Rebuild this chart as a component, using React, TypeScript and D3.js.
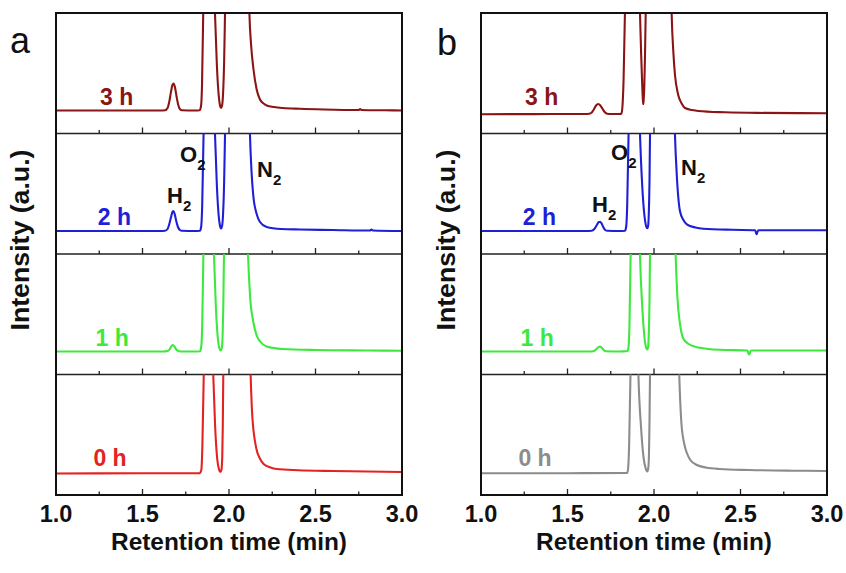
import React from "react";
import * as d3 from "d3";

// ---------- data (retention time [min], intensity [a.u.]) ----------
const xTicksMajor = [1.0, 1.5, 2.0, 2.5, 3.0];
const xTicksMinor = [1.25, 1.75, 2.25, 2.75];
const timeLabels = ["3 h", "2 h", "1 h", "0 h"];
const gasNames = ["H", "O", "N"];

const a3h: [number, number][] = [[1.00,0],[1.30,0],[1.60,0],[1.630,0.02],[1.645,0.25],[1.655,0.9],[1.665,1.9],[1.674,2.6],[1.680,2.7],[1.688,2.3],[1.697,1.4],[1.706,0.6],[1.716,0.15],[1.728,0.02],[1.80,0],[1.830,0.02],[1.838,0.4],[1.844,2.5],[1.851,9.7],[1.860,15],[1.885,17],[1.910,15],[1.919,9.7],[1.930,4.5],[1.940,1.6],[1.948,0.5],[1.954,0.25],[1.960,0.5],[1.966,1.8],[1.972,5],[1.977,9.7],[1.990,16],[2.050,20],[2.110,16],[2.118,9.7],[2.128,6.5],[2.141,4.2],[2.160,2.1],[2.179,1.1],[2.20,0.7],[2.218,0.5],[2.26,0.35],[2.312,0.25],[2.41,0.17],[2.55,0.1],[2.750,0.05],[2.758,0.15],[2.766,0.05],[2.90,0.02],[3.00,0]];
const a2h: [number, number][] = [[1.00,0],[1.60,0],[1.630,0.02],[1.645,0.2],[1.655,0.7],[1.665,1.4],[1.673,1.9],[1.678,2.0],[1.686,1.7],[1.695,1.0],[1.705,0.4],[1.716,0.1],[1.728,0.02],[1.80,0],[1.832,0.02],[1.839,0.4],[1.845,2.5],[1.853,9.7],[1.862,15],[1.885,17],[1.910,15],[1.919,9.7],[1.930,4.5],[1.940,1.6],[1.948,0.5],[1.954,0.25],[1.960,0.5],[1.966,1.8],[1.972,5],[1.977,9.7],[1.990,16],[2.05,20],[2.112,16],[2.121,9.7],[2.130,6],[2.140,3.6],[2.160,1.7],[2.179,0.9],[2.218,0.4],[2.30,0.2],[2.41,0.15],[2.60,0.1],[2.815,0.05],[2.823,0.15],[2.831,0.05],[3.00,0]];
const a1h: [number, number][] = [[1.00,0],[1.62,0],[1.645,0.05],[1.658,0.25],[1.668,0.55],[1.676,0.65],[1.685,0.5],[1.695,0.2],[1.708,0.04],[1.72,0],[1.80,0],[1.832,0.02],[1.839,0.4],[1.845,2.5],[1.852,9.7],[1.862,15],[1.885,17],[1.905,15],[1.913,9.7],[1.924,4.5],[1.935,1.4],[1.945,0.3],[1.952,0.1],[1.958,0.3],[1.963,1.5],[1.967,4.5],[1.971,9.7],[1.985,16],[2.04,20],[2.10,16],[2.110,9.7],[2.122,5.5],[2.140,3.0],[2.160,1.6],[2.180,1.0],[2.218,0.5],[2.31,0.25],[2.5,0.15],[2.8,0.1],[3.0,0.07]];
const a0h: [number, number][] = [[1.00,-0.15],[1.5,-0.13],[1.83,-0.12],[1.840,0.2],[1.846,2.5],[1.854,9.7],[1.864,15],[1.885,17],[1.901,15],[1.909,9.7],[1.920,4.5],[1.932,1.3],[1.943,0.2],[1.950,0],[1.956,0.2],[1.961,1.5],[1.964,4.5],[1.967,9.7],[1.980,16],[2.04,20],[2.115,16],[2.125,9.7],[2.135,5.5],[2.160,2.2],[2.180,1.3],[2.20,0.8],[2.24,0.45],[2.276,0.3],[2.4,0.18],[2.6,0.1],[2.8,0.05],[3.0,0]];

const b3h: [number, number][] = [[1.00,-0.37],[1.3,-0.36],[1.60,-0.35],[1.625,-0.33],[1.640,-0.2],[1.652,0.1],[1.665,0.5],[1.678,0.65],[1.690,0.5],[1.703,0.15],[1.715,-0.15],[1.730,-0.32],[1.75,-0.35],[1.80,-0.35],[1.812,-0.3],[1.818,0.5],[1.824,3],[1.832,9.7],[1.845,15],[1.875,17],[1.905,15],[1.919,9.7],[1.926,5.5],[1.932,2.5],[1.936,1.0],[1.938,0.65],[1.940,1.0],[1.944,2.5],[1.948,5.5],[1.952,9.7],[1.965,16],[2.03,20],[2.095,16],[2.102,9.7],[2.112,5.8],[2.121,3.6],[2.140,1.55],[2.16,0.7],[2.179,0.25],[2.22,0.05],[2.256,-0.05],[2.41,-0.18],[2.6,-0.24],[3.0,-0.27]];
const b2h: [number, number][] = [[1.00,0],[1.60,0],[1.640,0.02],[1.655,0.2],[1.668,0.55],[1.680,0.88],[1.688,0.93],[1.697,0.75],[1.708,0.35],[1.718,0.1],[1.730,0.02],[1.80,0],[1.832,0.02],[1.839,0.4],[1.845,2.5],[1.853,9.7],[1.864,15],[1.888,17],[1.910,15],[1.919,9.7],[1.932,4.5],[1.945,1.5],[1.955,0.45],[1.961,0.27],[1.966,0.5],[1.970,1.8],[1.974,5],[1.977,9.7],[1.990,16],[2.05,20],[2.112,16],[2.121,9.7],[2.132,5.5],[2.150,2.0],[2.17,1.1],[2.19,0.67],[2.24,0.35],[2.285,0.23],[2.45,0.12],[2.585,0.08],[2.591,-0.25],[2.594,-0.33],[2.598,-0.1],[2.605,0.08],[2.8,0.07],[3.0,0.07]];
const b1h: [number, number][] = [[1.00,0],[1.62,0],[1.650,0.03],[1.665,0.2],[1.678,0.42],[1.688,0.5],[1.698,0.38],[1.710,0.12],[1.722,0.02],[1.80,0],[1.848,0.05],[1.853,0.5],[1.858,2.5],[1.865,9.7],[1.875,15],[1.895,17],[1.912,15],[1.919,9.7],[1.932,4.5],[1.945,1.4],[1.955,0.35],[1.961,0.2],[1.966,0.45],[1.970,1.8],[1.974,5],[1.977,9.7],[1.990,16],[2.05,20],[2.116,16],[2.125,9.7],[2.135,5.5],[2.150,2.8],[2.170,1.27],[2.20,0.75],[2.248,0.43],[2.38,0.17],[2.54,0.1],[2.546,-0.2],[2.551,-0.3],[2.556,-0.05],[2.563,0.1],[2.8,0.1],[3.0,0.1]];
const b0h: [number, number][] = [[1.00,-0.13],[1.5,-0.12],[1.845,-0.1],[1.850,0.3],[1.856,2.5],[1.864,9.7],[1.875,15],[1.892,17],[1.903,15],[1.910,9.7],[1.925,4.5],[1.940,1.4],[1.952,0.35],[1.961,0.05],[1.967,0.4],[1.971,1.8],[1.974,5],[1.977,9.7],[1.990,16],[2.06,20],[2.137,16],[2.146,9.7],[2.158,5],[2.175,2.8],[2.19,1.9],[2.21,1.2],[2.248,0.7],[2.30,0.45],[2.38,0.3],[2.55,0.2],[2.8,0.13],[3.0,0.1]];

const seriesA = [a3h, a2h, a1h, a0h];
const seriesB = [b3h, b2h, b1h, b0h];
const colorsA = ["#8b1515", "#1f1fd6", "#3ee83e", "#e32222"];
const colorsB = ["#8b1515", "#1f1fd6", "#3ee83e", "#8c8c8c"];

// ---------- layout ----------
const W = 846, H = 573;
const TOP = 13, PW = 346, ROW_H = 120.5;
const FONT = "'Liberation Sans', Arial, Helvetica, sans-serif";

type PanelCfg = {
  id: string; left: number; letter: string; letterX: number; letterY: number;
  series: [number, number][][]; colors: string[];
  gas: { dx: number; y: number }[]; ylabX: number;
};

const panels: PanelCfg[] = [
  { id: "a", left: 56, letter: "a", letterX: 10, letterY: 53, series: seriesA, colors: colorsA,
    gas: [{ dx: 111, y: 203 }, { dx: 124, y: 162 }, { dx: 201, y: 177 }], ylabX: 29 },
  { id: "b", left: 481, letter: "b", letterX: 437, letterY: 55, series: seriesB, colors: colorsB,
    gas: [{ dx: 111, y: 212 }, { dx: 130, y: 160 }, { dx: 200, y: 175 }], ylabX: 455 },
];

function Panel({ p }: { p: PanelCfg }) {
  const x = d3.scaleLinear().domain([1, 3]).range([p.left, p.left + PW]);
  const bottom = TOP + 4 * ROW_H;
  return (
    <g>
      <defs>
        {p.series.map((_, i) => (
          <clipPath id={`clip-${p.id}-${i}`} key={i}>
            <rect x={p.left} y={TOP + i * ROW_H} width={PW} height={ROW_H} />
          </clipPath>
        ))}
      </defs>
      {p.series.map((data, i) => {
        const y = d3.scaleLinear().domain([-2.3, 9.75]).range([TOP + (i + 1) * ROW_H, TOP + i * ROW_H]);
        const line = d3.line<[number, number]>().x(d => x(d[0])).y(d => y(d[1])).curve(d3.curveMonotoneX);
        const rowBottom = TOP + (i + 1) * ROW_H;
        return (
          <g key={i}>
            <path d={line(data) || ""} fill="none" stroke={p.colors[i]} strokeWidth={2.1}
              clipPath={`url(#clip-${p.id}-${i})`} strokeLinejoin="round" />
            <text x={p.left + 44 - i * 2.2} y={rowBottom - 29} fill={p.colors[i]} fontFamily={FONT}
              fontWeight="bold" fontSize={23}>{timeLabels[i]}</text>
            {xTicksMajor.map(t => (
              <line key={"M" + t} x1={x(t)} x2={x(t)} y1={rowBottom} y2={rowBottom - 6} stroke="#222" strokeWidth={1.3} />
            ))}
            {xTicksMinor.map(t => (
              <line key={"m" + t} x1={x(t)} x2={x(t)} y1={rowBottom} y2={rowBottom - 3.5} stroke="#222" strokeWidth={1.3} />
            ))}
            {i < 3 && (
              <line x1={p.left} x2={p.left + PW} y1={rowBottom} y2={rowBottom} stroke="#222" strokeWidth={1.4} />
            )}
          </g>
        );
      })}
      <rect x={p.left} y={TOP} width={PW} height={4 * ROW_H} fill="none" stroke="#111" strokeWidth={2} />
      {/* gas labels */}
      {gasNames.map((g, k) => (
        <text key={g} x={p.left + p.gas[k].dx} y={p.gas[k].y} fontFamily={FONT} fontWeight="bold" fontSize={22} fill="#111">
          {g}<tspan fontSize={15} dy={8}>2</tspan>
        </text>
      ))}
      {/* tick labels */}
      {xTicksMajor.map(t => (
        <text key={t} x={x(t)} y={522} textAnchor="middle" fontFamily={FONT} fontWeight="bold" fontSize={23.5} fill="#111">
          {t.toFixed(1)}
        </text>
      ))}
      <text x={x(2)} y={550} textAnchor="middle" fontFamily={FONT} fontWeight="bold" fontSize={24}
        textLength={236} lengthAdjust="spacingAndGlyphs" fill="#111">Retention time (min)</text>
      <text transform={`translate(${p.ylabX},240) rotate(-90)`} textAnchor="middle" fontFamily={FONT}
        fontWeight="bold" fontSize={26} textLength={181} lengthAdjust="spacingAndGlyphs" fill="#111">Intensity (a.u.)</text>
      <text x={p.letterX} y={p.letterY} fontFamily={FONT} fontSize={36} fill="#111">{p.letter}</text>
      <line x1={0} x2={0} y1={0} y2={0} stroke="none" data-bottom={bottom} />
    </g>
  );
}

export default function App() {
  return (
    <svg width={W} height={H} viewBox={`0 0 ${W} ${H}`}
      style={{ position: "absolute", left: 0, top: 0, background: "#fff" }}>
      <rect x={0} y={0} width={W} height={H} fill="#fff" />
      {panels.map(p => <Panel key={p.id} p={p} />)}
    </svg>
  );
}
